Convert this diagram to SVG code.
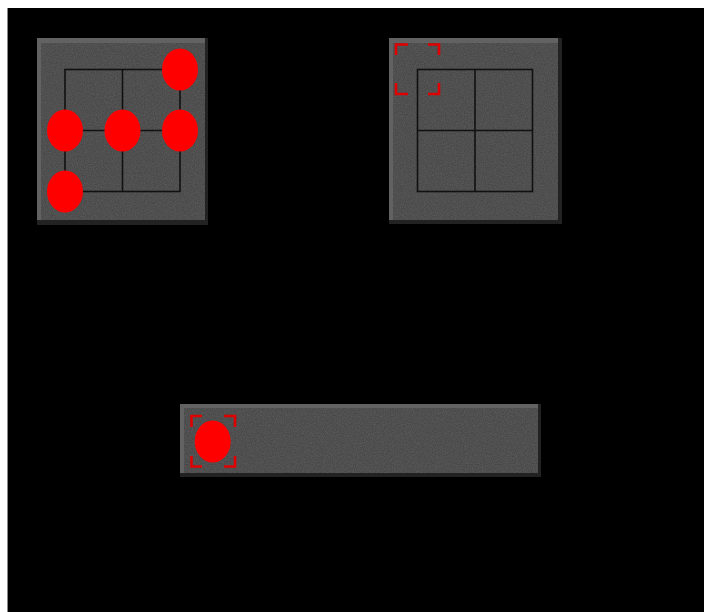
<svg xmlns="http://www.w3.org/2000/svg" width="704" height="612" viewBox="0 0 704 612">
<style>
.bg{fill:#000}
.face{fill:#3f3f3f}
.hl{fill:#626262}
.sh{fill:#222}
.grid{fill:none;stroke:#111;stroke-width:1.6}
.dot{fill:#ff0000}
.br{fill:none;stroke:#e00000;stroke-width:2.6}
</style>
<defs>
<filter id="noise" x="0" y="0" width="100%" height="100%">
<feTurbulence type="fractalNoise" baseFrequency="0.9" numOctaves="2" seed="3" result="n"/>
<feColorMatrix in="n" type="matrix" values="0 0 0 0 0.36  0 0 0 0 0.36  0 0 0 0 0.36  0 0 0 0.2 0" result="g"/>
<feComposite in="g" in2="SourceGraphic" operator="in" result="t"/>
<feMerge><feMergeNode in="SourceGraphic"/><feMergeNode in="t"/></feMerge>
</filter>
</defs>
<rect width="704" height="612" fill="#fff"/>
<rect x="7" y="8" width="697" height="604" class="bg"/>
<line x1="7.5" y1="8" x2="7.5" y2="612" stroke="#888" stroke-width="1"/>

<g id="panel1">
<rect x="37" y="38" width="171" height="187" class="sh"/>
<rect x="37" y="38" width="168" height="182" class="hl"/>
<rect x="41" y="43" width="164" height="177" class="face" filter="url(#noise)"/>
<rect x="65" y="69.5" width="115" height="122" class="grid"/>
<line x1="122.5" y1="69.5" x2="122.5" y2="191.5" class="grid"/>
<line x1="65" y1="130.5" x2="180" y2="130.5" class="grid"/>
<ellipse cx="180" cy="69.5" rx="18" ry="21" class="dot"/>
<ellipse cx="65" cy="130.5" rx="18" ry="21" class="dot"/>
<ellipse cx="122.5" cy="130.5" rx="18" ry="21" class="dot"/>
<ellipse cx="180" cy="130.5" rx="18" ry="21" class="dot"/>
<ellipse cx="65" cy="191.5" rx="18" ry="21" class="dot"/>
</g>

<g id="panel2">
<rect x="389" y="38" width="173" height="186" class="sh"/>
<rect x="389" y="38" width="169" height="182" class="hl"/>
<rect x="393" y="43" width="165" height="177" class="face" filter="url(#noise)"/>
<rect x="417.5" y="69.5" width="115" height="122" class="grid"/>
<line x1="475" y1="69.5" x2="475" y2="191.5" class="grid"/>
<line x1="417.5" y1="130.5" x2="532.5" y2="130.5" class="grid"/>
<path class="br" d="M396 55 V44.5 H408 M428 44.5 H439 V55 M396 83 V94 H408 M428 94 H439 V83"/>
</g>

<g id="panel3">
<rect x="180" y="404" width="361" height="73" class="sh"/>
<rect x="180" y="404" width="358" height="69" class="hl"/>
<rect x="184" y="408" width="354" height="65" class="face" filter="url(#noise)"/>
<path class="br" d="M191.5 427 V416 H202 M224 416 H235 V427 M191.5 456 V466.5 H202 M224 466.5 H235 V456"/>
<ellipse cx="212.7" cy="441.5" rx="18" ry="21" class="dot"/>
</g>
</svg>
